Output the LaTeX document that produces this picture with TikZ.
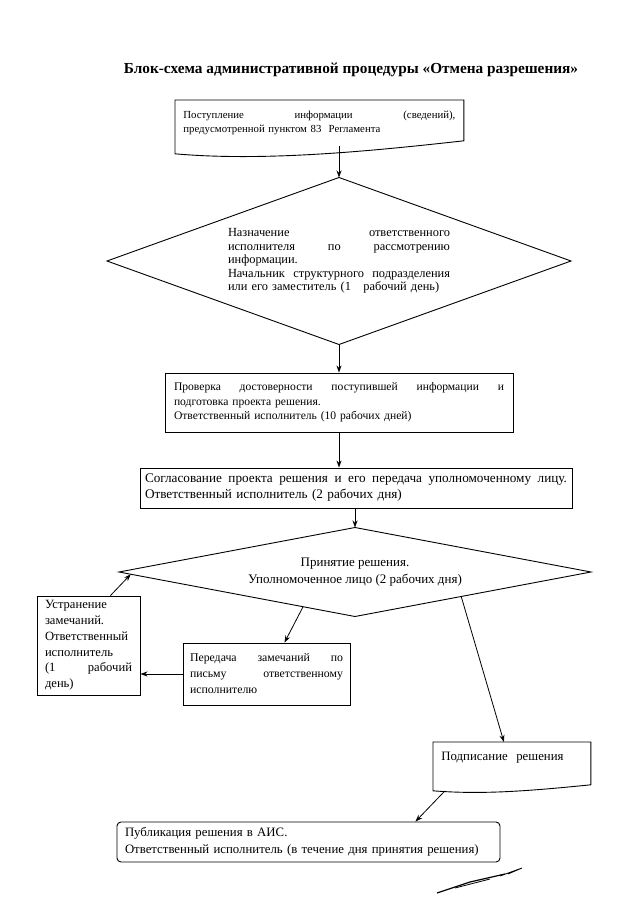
\documentclass[tikz,border=0pt]{standalone}
\usepackage{fontspec}
\setmainfont{Liberation Serif}
\usetikzlibrary{arrows.meta,shapes.geometric,calc}

\begin{document}
\begin{tikzpicture}[x=1pt,y=-1pt,>={Stealth[length=7pt,width=5pt]},line width=0.8pt,
  font=\fontsize{11.6}{15.5}\selectfont,
  box/.style={draw,align=left,inner ysep=4pt,line width=0.9pt},
  doc/.style={align=left,inner ysep=4pt},
  cond/.style={diamond,draw,inner sep=0pt,outer sep=0pt,line width=0.9pt}]
\useasboundingbox (0,0) rectangle (640,905);
\node[font=\fontsize{15.3}{18}\selectfont\bfseries] (title) at (351,70) {Блок-схема административной процедуры «Отмена разрешения»};
% поступление информации (документ)
\node[doc,anchor=north west,text width=272pt,inner xsep=8pt,minimum height=45pt,font=\fontsize{10.8}{14}\selectfont] (inflow) at (175,100) {Поступление\hfill информации\hfill (сведений),\\ предусмотренной пунктом 83\ \ Регламента};
\draw[line width=0.9pt] (inflow.north west) -- (inflow.north east) -- ([yshift=5pt]inflow.south east) .. controls +(-90,10) and +(90,8) .. ([yshift=-8pt]inflow.south west) -- cycle;
\node[cond,aspect=2.78,minimum width=464pt,minimum height=167pt,text width=222pt,align=left,font=\fontsize{12.4}{13.6}\selectfont] (assign) at (339,261) {Назначение\hfill ответственного\\ исполнителя\hfill по\hfill рассмотрению\\ информации.\\ Начальник\hfill структурного\hfill подразделения\\ или его заместитель (1\ \ \ рабочий день)};
\node[box,text width=330pt,inner xsep=9pt,minimum height=59pt,font=\fontsize{11.6}{14.5}\selectfont] (check) at (339,402.5) {Проверка\hfill достоверности\hfill поступившей\hfill информации\hfill и\\ подготовка проекта решения.\\ Ответственный исполнитель (10 рабочих дней)};
\node[box,text width=422pt,inner xsep=5pt,minimum height=40pt,font=\fontsize{13.2}{16}\selectfont] (agree) at (356,488) {Согласование\hfill проекта\hfill решения\hfill и\hfill его\hfill передача\hfill уполномоченному\hfill лицу.\\ Ответственный исполнитель (2 рабочих дня)};
\node[cond,aspect=5.3,minimum width=472pt,minimum height=89pt,align=center,font=\fontsize{13}{17}\selectfont] (decide) at (355,572) {Принятие решения.\\ Уполномоченное лицо (2 рабочих дня)};
\node[box,text width=87pt,inner xsep=8pt,minimum height=99pt,font=\fontsize{12.6}{15.8}\selectfont] (fix) at (88.5,645.5) {Устранение\\ замечаний.\\ Ответственный\\ исполнитель\\ (1\hfill рабочий\\ день)};
\node[box,text width=153pt,inner xsep=7pt,minimum height=62pt,font=\fontsize{11.8}{16}\selectfont] (send) at (266.5,674) {Передача\hfill замечаний\hfill по\\ письму\hfill ответственному\\ исполнителю};
% подписание (документ)
\node[doc,anchor=north west,text width=141pt,inner xsep=8pt,minimum height=30pt,font=\fontsize{12.8}{15.5}\selectfont] (sign) at (433,742) {Подписание\ \ решения};
\draw[line width=0.9pt] (sign.north west) -- (sign.north east) -- ([yshift=-12pt]sign.south east) .. controls +(-60,6) and +(50,4) .. ([yshift=-18pt]sign.south west) -- cycle;
\node[box,rounded corners=4pt,text width=367pt,inner xsep=8pt,minimum height=40pt,font=\fontsize{12.8}{17}\selectfont] (pub) at (308.5,842) {Публикация решения в АИС.\\ Ответственный исполнитель (в течение дня принятия решения)};
% связи
\draw[->] (inflow.south -| assign.north) -- (assign.north);
\draw[->] (assign.south) -- (check.north);
\draw[->] (check.south) -- (check.south |- agree.north);
\draw[->] (agree.south -| decide.north) -- (decide.north);
\draw[->] ($(decide.west)!0.78!(decide.south)$) -- ([xshift=18pt]send.north);
\draw[->] (send.west) -- (send.west -| fix.east);
\draw[->] ([xshift=-30pt]fix.north east) -- ($(decide.west)!0.05!(decide.south)$);
\draw[->] ($(decide.south)!0.45!(decide.east)$) -- ([xshift=-8pt]sign.north);
\draw[->] ([xshift=12pt,yshift=-18pt]sign.south west) -- ([xshift=-85pt]pub.north east);
% подпись
\draw[line width=1.2pt] (437,893) -- (470,882) -- (505,874);
\draw (455,888) -- (490,879);
\draw (500,876) -- (522,868) -- (508,874);
\end{tikzpicture}
\end{document}
